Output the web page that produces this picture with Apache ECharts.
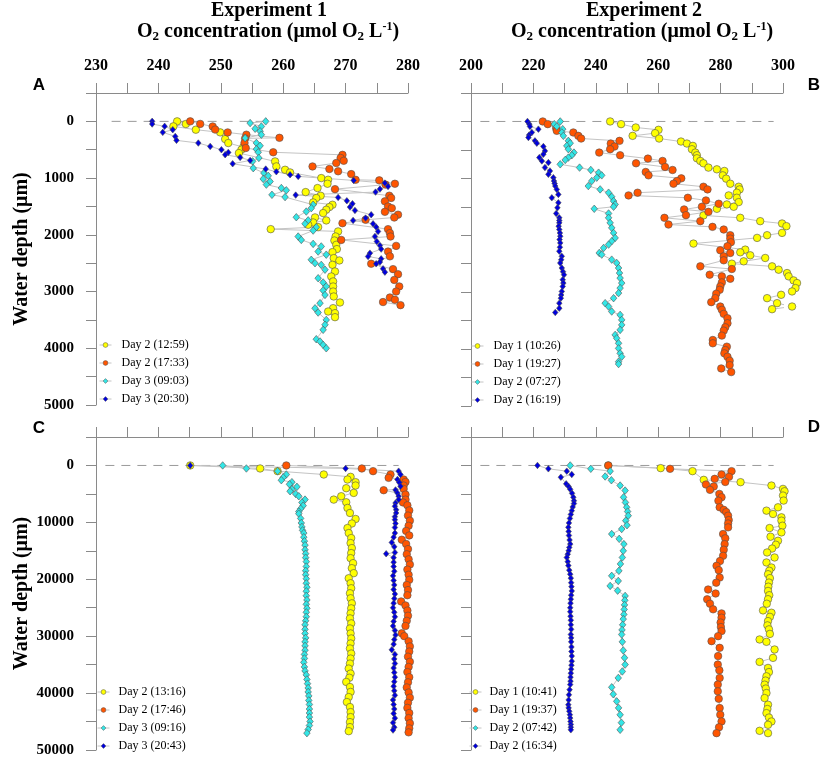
<!DOCTYPE html>
<html>
<head>
<meta charset="utf-8">
<script src="https://cdn.jsdelivr.net/npm/echarts@6/dist/echarts.min.js"></script>
<style>
html, body { margin: 0; padding: 0; background: #fff; }
#show { width: 829px; height: 758px; }
</style>
</head>
<body>
<div id="show"></div>
<script>
// profiles: [O2 concentration, water depth in um]

// Experiment 1, panel A
var a_day2_1259 = [[243.0,0],[244.4,47],[242.4,88],[246.0,147],[249.9,194],[250.7,312],[251.2,382],[253.6,453],[253.3,500],[252.9,559],[258.7,706],[258.9,794],[260.3,853],[261.1,900],[266.1,1000],[267.2,1029],[267.1,1100],[265.5,1176],[263.6,1247],[266.0,1311],[265.3,1352],[264.8,1429],[267.9,1470],[267.4,1511],[266.9,1558],[266.4,1617],[265.1,1693],[266.9,1746],[264.8,1782],[264.0,1823],[265.6,1864],[258.0,1900],[268.8,1940],[268.4,2029],[268.2,2100],[268.5,2176],[268.6,2252],[267.9,2305],[268.1,2411],[269.0,2452],[267.9,2529],[268.3,2646],[267.7,2734],[268.0,2822],[268.0,2911],[268.0,3000],[268.1,3087],[269.1,3193],[268.0,3293],[267.2,3352],[268.3,3381],[268.3,3452]];
var a_day2_1733 = [[245.1,0],[246.7,45],[248.7,90],[249.1,145],[251.1,195],[254.1,235],[259.4,290],[253.9,300],[253.8,380],[254.0,470],[258.4,545],[269.5,590],[269.2,645],[269.7,695],[268.5,735],[264.7,795],[267.4,840],[268.8,880],[270.9,930],[271.6,1030],[275.4,1040],[277.9,1100],[276.4,1115],[268.3,1195],[277.0,1310],[277.3,1350],[276.3,1410],[276.8,1500],[277.4,1530],[276.3,1595],[278.4,1645],[277.8,1695],[273.2,1735],[269.5,1795],[276.8,1900],[277.1,1970],[277.2,2030],[269.3,2090],[278.1,2195],[276.8,2295],[277.1,2380],[274.1,2510],[277.6,2605],[278.4,2695],[277.8,2795],[278.6,2910],[278.1,3000],[277.1,3105],[277.9,3145],[276.0,3185],[278.8,3240]];
var a_day3_0903 = [[257.2,0],[254.7,30],[256.5,90],[255.5,130],[256.3,175],[256.5,235],[253.9,295],[255.7,380],[256.3,430],[255.7,490],[256.0,545],[256.1,645],[255.1,705],[255.2,825],[256.9,910],[257.6,960],[256.8,1015],[257.9,1060],[257.3,1115],[259.7,1175],[260.5,1215],[258.2,1295],[260.3,1335],[264.8,1470],[264.5,1530],[263.7,1590],[262.1,1690],[264.0,1745],[263.5,1805],[265.3,1865],[264.8,1925],[262.4,2030],[262.9,2090],[264.8,2160],[266.1,2205],[265.6,2295],[266.9,2350],[264.5,2440],[265.1,2500],[266.1,2530],[266.7,2615],[265.6,2765],[266.4,2840],[266.9,2910],[266.4,2980],[266.7,3060],[265.9,3205],[265.1,3295],[265.6,3370],[266.9,3500],[266.7,3585],[266.4,3675],[265.3,3840],[265.9,3880],[266.4,3940],[266.9,4000]];
var a_day3_2030 = [[239.0,0],[239.0,47],[241.0,88],[242.3,147],[240.7,194],[242.7,265],[242.9,335],[246.4,382],[248.3,441],[250.1,500],[251.2,547],[250.7,588],[253.1,635],[254.7,688],[251.9,747],[257.2,841],[258.9,888],[261.1,941],[262.4,970],[271.3,1041],[276.3,1088],[276.8,1147],[275.5,1194],[274.8,1247],[262.0,1300],[268.8,1341],[270.2,1400],[271.1,1452],[270.7,1511],[271.5,1570],[274.1,1646],[273.2,1705],[271.2,1746],[274.4,1805],[274.9,1864],[275.2,1940],[274.7,2029],[275.0,2117],[275.5,2188],[275.7,2252],[273.9,2323],[273.6,2382],[275.7,2423],[275.5,2481],[274.9,2511],[276.0,2599],[276.3,2658]];

// Experiment 2, panel B
var b_day1_1026 = [[244.6,0],[248.1,47],[252.8,106],[260.1,147],[259.0,206],[251.8,253],[260.3,300],[267.3,353],[269.2,388],[271.1,429],[270.8,488],[271.9,547],[272.4,594],[272.4,647],[273.5,694],[274.5,735],[276.1,811],[278.8,841],[281.2,870],[280.7,947],[281.8,1005],[283.1,1094],[285.8,1147],[286.1,1194],[285.2,1252],[282.6,1300],[285.2,1341],[285.8,1417],[282.0,1458],[284.2,1499],[278.8,1535],[274.5,1652],[286.3,1693],[292.7,1752],[299.7,1793],[301.1,1840],[299.7,1958],[294.9,1999],[291.7,2046],[271.3,2146],[287.9,2252],[286.3,2299],[289.5,2352],[294.3,2399],[287.4,2458],[283.6,2499],[296.5,2546],[298.6,2605],[301.3,2664],[301.8,2722],[303.4,2793],[304.5,2840],[304.0,2928],[302.9,2987],[299.4,3046],[294.9,3105],[298.1,3193],[302.9,3252],[296.5,3299]];
var b_day1_1927 = [[223.0,0],[224.6,47],[227.3,118],[227.5,165],[232.8,194],[234.4,253],[235.3,300],[247.6,341],[244.8,388],[246.0,441],[244.6,488],[241.1,547],[247.8,594],[256.7,653],[261.4,694],[252.9,735],[262.2,800],[264.6,853],[256.0,888],[256.9,947],[267.4,1000],[266.0,1047],[264.9,1094],[274.5,1147],[275.8,1194],[253.4,1252],[250.5,1300],[269.5,1341],[275.3,1388],[279.4,1446],[274.0,1499],[268.3,1546],[276.1,1588],[268.9,1646],[262.0,1693],[273.5,1752],[263.3,1811],[277.4,1852],[281.0,1899],[283.1,1999],[283.1,2058],[283.3,2123],[282.2,2193],[279.9,2264],[283.1,2311],[281.0,2370],[281.0,2440],[273.5,2546],[283.6,2593],[276.5,2693],[280.4,2722],[283.1,2764],[280.4,2828],[279.9,2899],[279.7,2958],[278.6,3028],[278.3,3105],[277.0,3175],[279.9,3252],[280.4,3310],[281.0,3381],[282.2,3458],[282.2,3546],[281.5,3616],[281.0,3675],[280.4,3763],[277.5,3840],[277.5,3898],[282.0,3957],[281.5,4016],[281.2,4075],[282.2,4134],[282.9,4204],[282.9,4281],[280.2,4340],[283.4,4404]];
var b_day2_0727 = [[228.6,0],[226.7,47],[227.5,88],[229.4,135],[229.1,194],[229.6,253],[231.2,341],[231.8,382],[230.7,429],[231.2,488],[233.0,547],[232.3,594],[231.2,635],[230.2,676],[228.6,753],[234.8,811],[238.4,853],[240.9,900],[241.9,947],[240.3,988],[238.7,1047],[237.6,1135],[241.4,1194],[244.1,1252],[245.1,1323],[245.7,1399],[246.2,1458],[245.7,1499],[239.5,1535],[244.1,1617],[244.1,1693],[244.6,1782],[245.1,1870],[245.7,1958],[246.2,2046],[245.1,2105],[244.1,2164],[242.5,2223],[241.1,2311],[241.9,2340],[245.1,2428],[246.7,2487],[247.3,2575],[247.6,2664],[247.8,2752],[248.3,2840],[247.8,2928],[247.3,3016],[245.7,3105],[243.0,3193],[244.1,3252],[245.1,3340],[247.8,3399],[248.3,3487],[248.3,3575],[247.8,3663],[246.2,3751],[246.7,3810],[247.3,3898],[247.3,3987],[247.8,4075],[248.3,4134],[247.3,4222],[247.3,4263]];
var b_day2_1619 = [[218.1,0],[218.7,47],[218.9,88],[221.6,135],[219.5,194],[218.6,240],[218.4,282],[220.5,341],[221.1,382],[223.2,441],[223.7,517],[223.2,576],[221.9,635],[222.7,694],[224.8,723],[223.7,811],[225.3,870],[224.8,929],[226.4,988],[226.6,1047],[226.8,1090],[227.0,1135],[227.5,1194],[228.0,1282],[225.9,1341],[228.0,1429],[227.7,1517],[227.3,1617],[228.3,1693],[228.3,1740],[228.3,1782],[228.1,1840],[228.3,1899],[228.5,1960],[228.6,2017],[228.4,2075],[228.6,2134],[228.5,2210],[228.3,2281],[229.1,2370],[228.9,2430],[228.6,2487],[229.1,2575],[229.5,2640],[229.8,2693],[229.4,2781],[229.6,2840],[229.4,2899],[229.1,2987],[228.9,3050],[228.8,3105],[228.3,3193],[228.3,3281],[227.0,3357]];

// Experiment 1, panel C
var c_day2_1316 = [[245.1,0],[256.3,529],[259.1,1000],[266.5,1588],[270.8,2000],[270.3,2470],[271.6,2940],[271.6,3528],[270.1,4000],[271.3,4822],[269.3,5410],[268.1,6000],[270.1,6470],[270.3,7468],[270.7,8350],[271.6,9408],[271.0,10200],[270.3,11000],[270.5,11880],[270.9,12760],[270.8,13640],[271.0,14520],[270.9,15400],[270.8,16290],[271.2,17170],[271.0,18050],[271.3,18930],[270.5,19820],[270.8,20700],[270.9,21580],[270.7,22460],[270.8,23340],[271.0,24230],[270.9,25110],[270.8,25990],[270.7,26870],[270.9,27750],[270.7,28640],[270.8,29520],[270.9,30400],[270.8,31280],[270.7,32160],[270.9,33050],[270.8,33930],[270.7,34810],[270.5,35690],[270.8,36570],[270.6,37300],[270.1,38040],[270.7,38930],[270.8,39800],[270.5,40700],[270.2,41570],[270.7,42450],[270.8,43340],[270.8,44220],[270.7,45100],[270.7,45980],[270.5,46690]];
var c_day2_1746 = [[260.5,0],[272.6,530],[274.4,1000],[277.2,1590],[276.9,2180],[279.3,2470],[279.6,2900],[279.3,3530],[279.3,4120],[276.1,4350],[279.6,5120],[279.6,6000],[279.2,6500],[279.9,7000],[280.2,7900],[280.0,8800],[280.3,9700],[280.1,10600],[279.7,11500],[280.2,12300],[279.0,13050],[279.7,13800],[280.0,14700],[279.8,15600],[280.1,16500],[280.3,17400],[279.9,18300],[280.1,19200],[280.2,20100],[279.8,21000],[280.0,21900],[279.9,22800],[278.9,23900],[279.6,24600],[279.9,25500],[280.0,26400],[279.8,27300],[279.6,28200],[279.0,29500],[279.4,30000],[280.1,30900],[280.3,31800],[280.2,32700],[280.0,33600],[280.3,34500],[280.1,35400],[279.9,36300],[280.2,37200],[280.0,38100],[279.8,39000],[280.1,39900],[280.3,40800],[280.0,41700],[279.9,42600],[280.2,43500],[280.1,44400],[280.3,45300],[280.2,46200],[280.1,46900]];
var c_day3_0916 = [[250.3,0],[254.1,530],[259.1,1000],[260.5,1590],[260.0,2100],[259.7,2590],[261.4,2940],[261.0,3300],[262.2,3760],[261.4,4200],[261.1,4530],[262.0,5000],[262.5,5410],[263.5,6000],[263.0,6500],[263.2,7060],[262.8,7600],[262.5,8100],[262.5,8470],[262.8,9300],[262.9,10110],[263.0,10800],[263.1,11400],[263.3,11880],[263.3,12600],[263.4,13300],[263.5,14000],[263.5,14820],[263.6,15500],[263.6,16200],[263.7,16900],[263.7,17760],[263.6,18500],[263.6,19200],[263.7,19900],[263.7,20700],[263.8,21400],[263.7,22100],[263.7,22900],[263.8,23640],[263.7,24400],[263.8,25100],[263.7,25800],[263.7,26580],[263.6,27300],[263.5,28000],[263.5,28800],[263.5,29520],[263.6,30300],[263.5,31000],[263.5,31700],[263.5,32460],[263.4,33200],[263.4,33900],[263.3,34600],[263.4,35400],[263.5,36100],[263.7,36800],[263.8,37600],[263.9,38340],[264.0,39100],[264.0,39800],[264.1,40500],[264.1,41280],[264.2,42000],[264.2,42800],[264.2,43500],[264.2,44220],[264.3,45000],[264.2,45690],[264.0,46400],[263.8,47040]];
var c_day3_2043 = [[245.1,0],[270.0,530],[278.5,1000],[278.8,1590],[278.3,2470],[278.6,3000],[278.8,3650],[278.0,4300],[278.3,4820],[278.5,5400],[278.5,6000],[278.0,6600],[277.9,7170],[278.1,7800],[278.1,8350],[277.9,9000],[277.9,9530],[278.0,10200],[277.9,10900],[277.9,11880],[277.7,12600],[277.4,13520],[277.8,14300],[277.9,15290],[276.5,15520],[277.7,16200],[277.7,17000],[277.7,17760],[277.8,18600],[277.6,19400],[277.7,20200],[277.8,21000],[277.7,21800],[277.9,22600],[277.8,23400],[277.7,24200],[277.6,25000],[277.8,25800],[277.9,26600],[277.7,27400],[277.6,28200],[277.9,29000],[278.0,29800],[277.8,30600],[277.7,31400],[277.4,32400],[277.9,33200],[277.8,34000],[277.9,34800],[277.7,35600],[277.8,36400],[277.9,37200],[277.8,38000],[277.7,38800],[277.8,39600],[277.9,40400],[277.6,41200],[277.7,42000],[277.8,42800],[277.7,43600],[277.9,44400],[277.6,45200],[277.8,46000],[277.6,46500]];

// Experiment 2, panel D
var d_day1_1041 = [[244.0,0],[260.8,470],[271.0,1000],[274.6,2530],[286.4,2940],[296.3,3530],[300.0,4120],[300.5,4530],[300.0,5290],[300.2,6170],[298.4,7350],[294.7,7940],[296.8,8530],[299.5,9110],[299.5,9700],[299.8,10590],[295.7,11000],[299.5,11760],[296.0,12520],[298.4,13230],[297.7,13930],[296.5,14600],[294.9,15290],[297.3,16170],[294.7,17050],[296.3,17930],[295.6,18500],[295.2,19110],[295.8,19800],[295.5,20580],[295.3,21300],[295.2,22050],[295.6,22800],[295.2,23500],[294.8,24300],[293.6,25470],[296.3,25880],[295.8,26600],[295.2,27350],[295.0,28100],[295.5,28800],[295.8,29600],[292.5,30580],[294.7,30990],[297.3,32340],[296.8,33810],[292.5,34520],[295.2,35580],[295.5,36300],[294.7,37050],[294.4,37800],[294.1,38520],[294.5,39200],[294.7,39990],[294.1,40870],[295.2,42040],[295.0,42800],[294.7,43520],[295.5,44300],[296.3,44990],[295.2,45570],[292.5,46630],[295.2,47040]];
var d_day1_1937 = [[244.0,0],[263.8,590],[283.5,1000],[280.3,1590],[282.7,2000],[278.1,2350],[281.5,2900],[275.3,3350],[277.8,3700],[276.6,4290],[279.6,5000],[280.3,5590],[279.3,6200],[279.7,7350],[281.0,7800],[281.8,8200],[282.4,8820],[282.6,9600],[282.4,10200],[282.4,10880],[280.8,12050],[281.5,12800],[281.3,13820],[281.0,14800],[280.8,15880],[279.8,16800],[278.7,17640],[279.4,18400],[279.7,19700],[278.6,20600],[276.0,21800],[278.4,22500],[275.7,23520],[276.6,24300],[277.6,25280],[280.3,26000],[280.3,26750],[280.0,27600],[280.1,28400],[280.3,29110],[279.2,30000],[277.1,30870],[279.7,32050],[279.2,33500],[279.1,34990],[279.6,36000],[279.7,37340],[279.1,38500],[279.1,39690],[279.4,41000],[279.7,42630],[279.9,43800],[280.3,44980],[279.5,46000],[278.7,47040]];
var d_day2_0742 = [[231.8,0],[238.4,590],[244.6,1000],[243.0,1940],[245.0,2600],[247.8,3530],[249.4,4410],[248.9,5590],[249.5,6500],[249.9,7350],[250.2,8100],[250.4,8820],[249.6,9700],[250.0,10500],[248.3,11170],[245.1,12050],[247.5,12900],[249.0,13820],[248.8,15000],[248.5,16170],[247.9,17300],[247.4,18520],[245.1,19400],[247.2,20290],[244.6,21170],[247.0,22000],[249.4,22930],[249.3,23700],[249.2,24500],[249.1,25300],[249.0,26170],[248.8,27000],[248.6,28000],[248.4,28900],[248.3,29700],[248.5,31000],[248.8,32500],[249.2,33800],[249.4,34990],[248.5,36200],[247.2,37340],[245.1,38980],[245.6,40200],[246.7,41450],[247.3,42600],[247.8,43810],[248.2,45200],[247.8,46450]];
var d_day2_1634 = [[221.3,0],[224.8,590],[230.7,1000],[232.3,1590],[228.8,2060],[230.5,3230],[231.3,3700],[231.8,4200],[232.4,4900],[232.8,5590],[233.0,6200],[233.0,6700],[232.6,7300],[232.3,7940],[232.0,8600],[231.7,9300],[231.4,10100],[231.2,10880],[231.3,11600],[231.4,12300],[231.6,13100],[231.8,13820],[231.5,14400],[231.3,15000],[231.0,15600],[230.7,16170],[231.0,16900],[231.2,17600],[231.5,18400],[231.8,19110],[232.0,19800],[232.1,20600],[232.2,21300],[232.3,22050],[232.1,22800],[232.0,23500],[231.9,24200],[231.8,25000],[231.8,25700],[231.9,26500],[232.0,27200],[232.0,28000],[232.1,28800],[232.0,29700],[232.1,30300],[232.1,31000],[232.2,31900],[232.2,32700],[232.3,33500],[232.3,34400],[232.2,35100],[232.1,35800],[232.0,36500],[231.9,37200],[231.9,37900],[231.8,38510],[231.6,39400],[231.4,40300],[231.3,41200],[231.2,42040],[231.3,42600],[231.5,43200],[231.7,43800],[231.8,44390],[231.9,45000],[232.0,45500],[232.0,46000],[232.0,46450]];

// dashed reference line at the surface (x extent in O2 units)
var zeroA = [232.5, 278.5];
var zeroB = [203, 297];
var zeroC = [231.5, 278.5];
var zeroD = [203, 297];

var legendA = ['Day 2 (12:59)', 'Day 2 (17:33)', 'Day 3 (09:03)', 'Day 3 (20:30)'];
var legendB = ['Day 1 (10:26)', 'Day 1 (19:27)', 'Day 2 (07:27)', 'Day 2 (16:19)'];
var legendC = ['Day 2 (13:16)', 'Day 2 (17:46)', 'Day 3 (09:16)', 'Day 3 (20:43)'];
var legendD = ['Day 1 (10:41)', 'Day 1 (19:37)', 'Day 2 (07:42)', 'Day 2 (16:34)'];

var SERIF = '"Liberation Serif", "Times New Roman", serif';
var AXIS_COLOR = '#8a8a8a';

var myEchart = echarts.init(document.getElementById('show'));

// marker styles
var kinds = {
	yellow: { symbol: 'circle', size: 7.5, color: '#ffff00' },
	orange: { symbol: 'circle', size: 7.5, color: '#ff5500' },
	cyan: { symbol: 'diamond', size: [6.5, 7.5], color: '#33e6e6' },
	blue: { symbol: 'diamond', size: [5.5, 6.5], color: '#0000dd' }
};

function profile(name, data, gi, kind) {
	var k = kinds[kind];
	return {
		name: name,
		type: 'line',
		xAxisIndex: gi,
		yAxisIndex: gi,
		data: data,
		symbol: k.symbol,
		symbolSize: k.size,
		showAllSymbol: true,
		clip: false,
		lineStyle: { color: '#c4c4c4', width: 1 },
		itemStyle: { color: k.color, borderColor: '#505050', borderWidth: 0.6 },
		emphasis: { disabled: true }
	};
}

function zeroLine(gi, ends) {
	return {
		type: 'line',
		xAxisIndex: gi,
		yAxisIndex: gi,
		data: [[ends[0], 0], [ends[1], 0]],
		symbol: 'none',
		silent: true,
		lineStyle: { color: '#9a9a9a', width: 1, type: [9, 7] },
		z: 1
	};
}

function xAxisFor(gi, min, max, step, showLabels) {
	return {
		gridIndex: gi,
		type: 'value',
		position: 'top',
		min: min,
		max: max,
		interval: step,
		axisLine: { show: true, onZero: false, lineStyle: { color: AXIS_COLOR } },
		axisTick: { show: true, length: 10, lineStyle: { color: AXIS_COLOR } },
		axisLabel: {
			show: showLabels,
			margin: 19,
			fontFamily: SERIF,
			fontWeight: 'bold',
			fontSize: 16,
			color: '#000',
			formatter: function (v) {
				return (Math.round(v) % (2 * step) === 0) ? String(v) : '';
			}
		},
		splitLine: { show: false }
	};
}

function yAxisFor(gi, max, step, showLabels) {
	return {
		gridIndex: gi,
		type: 'value',
		inverse: true,
		min: -step,
		max: max,
		interval: step,
		axisLine: { show: true, onZero: false, lineStyle: { color: AXIS_COLOR } },
		axisTick: { show: true, length: 10, lineStyle: { color: AXIS_COLOR } },
		axisLabel: {
			show: showLabels,
			margin: 22,
			fontFamily: SERIF,
			fontWeight: 'bold',
			fontSize: 15,
			color: '#000',
			formatter: function (v) {
				return (v >= 0 && v % (2 * step) === 0) ? String(v) : '';
			}
		},
		splitLine: { show: false },
		name: showLabels ? 'Water depth (μm)' : '',
		nameLocation: 'middle',
		nameRotate: 90,
		nameGap: 64,
		nameTextStyle: { fontFamily: SERIF, fontWeight: 'bold', fontSize: 20, color: '#000' }
	};
}

function legendFor(names, left, top, pad) {
	return {
		data: names,
		left: left,
		top: top,
		orient: 'vertical',
		itemWidth: 12,
		itemHeight: 6,
		itemGap: 4,
		padding: 0,
		selectedMode: false,
		itemStyle: { borderWidth: 0.5 },
		lineStyle: { color: '#c4c4c4', width: 1 },
		textStyle: { fontFamily: SERIF, fontSize: 12, color: '#000', lineHeight: 14, padding: [0, 0, 0, pad] }
	};
}

var titleRich = {
	n: { fontFamily: SERIF, fontWeight: 'bold', fontSize: 20, lineHeight: 23, verticalAlign: 'middle', fill: '#000', color: '#000' },
	s: { fontFamily: SERIF, fontWeight: 'bold', fontSize: 13, lineHeight: 23, verticalAlign: 'bottom', fill: '#000', color: '#000' },
	p: { fontFamily: SERIF, fontWeight: 'bold', fontSize: 12, lineHeight: 23, verticalAlign: 'top', fill: '#000', color: '#000' }
};
var titleLine2 = '{n|O}{s|2}{n| concentration (μmol O}{s|2}{n| L}{p|-1}{n|)}';

function headText(x, y, txt, rich) {
	return {
		type: 'text',
		x: x,
		y: y,
		silent: true,
		style: {
			text: txt,
			rich: rich,
			font: 'bold 20px ' + SERIF,
			fill: '#000',
			align: 'center',
			verticalAlign: 'middle',
			textAlign: 'center',
			textVerticalAlign: 'middle'
		}
	};
}

function panelLetter(x, y, txt) {
	return {
		type: 'text',
		x: x,
		y: y,
		silent: true,
		style: {
			text: txt,
			font: 'bold 17px "Liberation Sans", Arial, sans-serif',
			fill: '#000',
			align: 'center',
			verticalAlign: 'middle',
			textAlign: 'center',
			textVerticalAlign: 'middle'
		}
	};
}

var option = {
	animation: false,
	backgroundColor: '#fff',
	grid: [
		{ left: 96, top: 93, width: 312, height: 312 },
		{ left: 471, top: 93, width: 312, height: 313 },
		{ left: 96, top: 437, width: 312, height: 313 },
		{ left: 471, top: 437, width: 312, height: 313 }
	],
	xAxis: [
		xAxisFor(0, 230, 280, 5, true),
		xAxisFor(1, 200, 300, 10, true),
		xAxisFor(2, 230, 280, 5, false),
		xAxisFor(3, 200, 300, 10, false)
	],
	yAxis: [
		yAxisFor(0, 5000, 500, true),
		yAxisFor(1, 5000, 500, false),
		yAxisFor(2, 50000, 5000, true),
		yAxisFor(3, 50000, 5000, false)
	],
	legend: [
		legendFor(legendA, 99, 338, 5),
		legendFor(legendB, 471, 339, 5),
		legendFor(legendC, 97, 685, 4),
		legendFor(legendD, 469, 685, 3)
	],
	graphic: [
		headText(269, 11, 'Experiment 1'),
		headText(268, 32, titleLine2, titleRich),
		headText(644, 11, 'Experiment 2'),
		headText(642, 32, titleLine2, titleRich),
		panelLetter(39, 85, 'A'),
		panelLetter(814, 85, 'B'),
		panelLetter(39, 428, 'C'),
		panelLetter(814, 427, 'D')
	],
	series: [
		zeroLine(0, zeroA),
		zeroLine(1, zeroB),
		zeroLine(2, zeroC),
		zeroLine(3, zeroD),
		profile(legendA[0], a_day2_1259, 0, 'yellow'),
		profile(legendA[1], a_day2_1733, 0, 'orange'),
		profile(legendA[2], a_day3_0903, 0, 'cyan'),
		profile(legendA[3], a_day3_2030, 0, 'blue'),
		profile(legendB[0], b_day1_1026, 1, 'yellow'),
		profile(legendB[1], b_day1_1927, 1, 'orange'),
		profile(legendB[2], b_day2_0727, 1, 'cyan'),
		profile(legendB[3], b_day2_1619, 1, 'blue'),
		profile(legendC[0], c_day2_1316, 2, 'yellow'),
		profile(legendC[1], c_day2_1746, 2, 'orange'),
		profile(legendC[2], c_day3_0916, 2, 'cyan'),
		profile(legendC[3], c_day3_2043, 2, 'blue'),
		profile(legendD[0], d_day1_1041, 3, 'yellow'),
		profile(legendD[1], d_day1_1937, 3, 'orange'),
		profile(legendD[2], d_day2_0742, 3, 'cyan'),
		profile(legendD[3], d_day2_1634, 3, 'blue')
	]
};

myEchart.setOption(option);
</script>
</body>
</html>
